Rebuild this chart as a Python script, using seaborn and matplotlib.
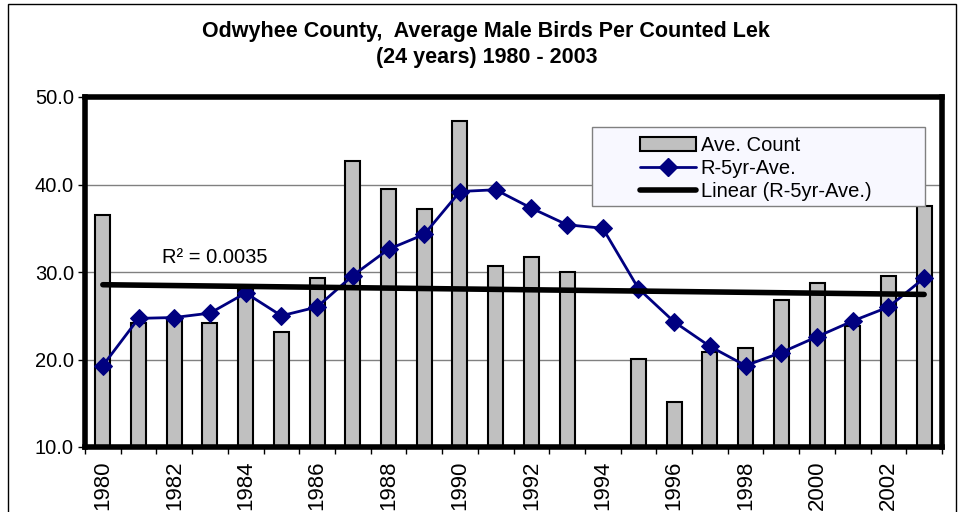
import numpy as np
import pandas as pd
import seaborn as sns
import matplotlib.pyplot as plt
from matplotlib.patches import Rectangle, Patch
from matplotlib.lines import Line2D

years = list(range(1980, 2004))
ave_count = [36.5, 24.2, 24.8, 24.2, 28.0, 23.2, 29.3, 42.7, 39.5, 37.2, 47.3, 30.7,
             31.7, 30.0, np.nan, 20.1, 15.2, 20.9, 21.3, 26.8, 28.8, 23.8, 29.5, 37.5]
r5yr_ave = [19.3, 24.7, 24.8, 25.3, 27.6, 25.0, 26.0, 29.6, 32.6, 34.3, 39.2, 39.4,
            37.3, 35.4, 35.0, 28.1, 24.3, 21.5, 19.3, 20.8, 22.6, 24.4, 26.0, 29.3]
label_years = [str(y) for y in years[::2]]

df = pd.DataFrame({'year': [str(y) for y in years], 'count': ave_count, 'r5': r5yr_ave})
df['idx'] = np.arange(len(df))

sns.set_style('white')
plt.rcParams['font.family'] = ['Liberation Sans', 'DejaVu Sans']
plt.rcParams['text.color'] = 'black'
plt.rcParams['xtick.color'] = 'black'
plt.rcParams['ytick.color'] = 'black'
plt.rcParams['axes.labelcolor'] = 'black'

fs = 14.5

fig = plt.figure(figsize=(9.63, 5.12), dpi=100)
ax = fig.add_axes([85 / 963, 65 / 512, 857 / 963, 350 / 512])

# bars
sns.barplot(data=df, x='year', y='count', color='#C0C0C0', edgecolor='black',
            linewidth=1.5, width=0.42, saturation=1, ax=ax, zorder=3)

# running 5 yr average
sns.lineplot(data=df, x='idx', y='r5', color='#000080', marker='D', markersize=9.5,
             markeredgecolor='#000080', linewidth=2, ax=ax, zorder=5)

# linear trend of the running average
coef = np.polyfit(df['idx'], df['r5'], 1)
ax.plot([0, len(df) - 1], np.polyval(coef, [0, len(df) - 1]), color='black',
        linewidth=4, zorder=6, solid_capstyle='round')

ax.set_xlim(-0.5, len(df) - 0.5)
ax.set_ylim(10, 50)
ax.set_yticks([10, 20, 30, 40, 50])
ax.set_yticklabels([f'{v:.1f}' for v in [10, 20, 30, 40, 50]], fontsize=fs)
ax.yaxis.grid(True, color='#808080', linewidth=1)
ax.set_axisbelow(True)

# tick marks between categories, labels on every other year
ax.set_xticks(np.arange(len(df) + 1) - 0.5)
ax.set_xticklabels([])
ax.set_xticks(np.arange(0, len(df), 2), minor=True)
ax.set_xticklabels(label_years, minor=True, rotation=90, fontsize=16)
ax.tick_params(axis='x', which='major', direction='out', length=5, width=1,
               bottom=True, color='black')
ax.tick_params(axis='x', which='minor', length=0, pad=10)
ax.tick_params(axis='y', direction='out', length=5, width=1, left=True,
               color='black', pad=3)
ax.set_xlabel('')
ax.set_ylabel('')

for s in ax.spines.values():
    s.set_visible(True)
    s.set_color('black')
    s.set_linewidth(4)
    s.set_zorder(7)

ax.text(1.66, 31.7, 'R² = 0.0035', fontsize=fs, ha='left', va='center')

# legend box
fig.patches.append(Rectangle((592 / 963, 1 - 206 / 512), 333 / 963, 79 / 512,
                             transform=fig.transFigure, facecolor='#F8F8FF',
                             edgecolor='#808080', linewidth=1, zorder=8))
handles = [Patch(facecolor='#C0C0C0', edgecolor='black', linewidth=1.5),
           Line2D([], [], color='#000080', marker='D', markersize=9.5, linewidth=2),
           Line2D([], [], color='black', linewidth=4)]
leg = fig.legend(handles, ['Ave. Count', 'R-5yr-Ave.', 'Linear (R-5yr-Ave.)'],
                 loc='upper left', bbox_to_anchor=(626 / 963, 1 - 122 / 512),
                 frameon=False, fontsize=fs, handlelength=2.8, handleheight=0.65,
                 handletextpad=0.2, labelspacing=0.2, borderpad=0.2)
leg.set_zorder(9)

fig.text(0.505, 1 - 32 / 512, 'Odwyhee County,  Average Male Birds Per Counted Lek',
         ha='center', va='center', fontsize=15.5, fontweight='bold')
fig.text(0.505, 1 - 58 / 512, '(24 years) 1980 - 2003',
         ha='center', va='center', fontsize=15.5, fontweight='bold')

# outer chart border
fig.patches.append(Rectangle((8 / 963, -0.1), 948 / 963, 1.1 - 4 / 512,
                             transform=fig.transFigure, fill=False,
                             edgecolor='black', linewidth=1))

fig.savefig('out.png', dpi=100)
